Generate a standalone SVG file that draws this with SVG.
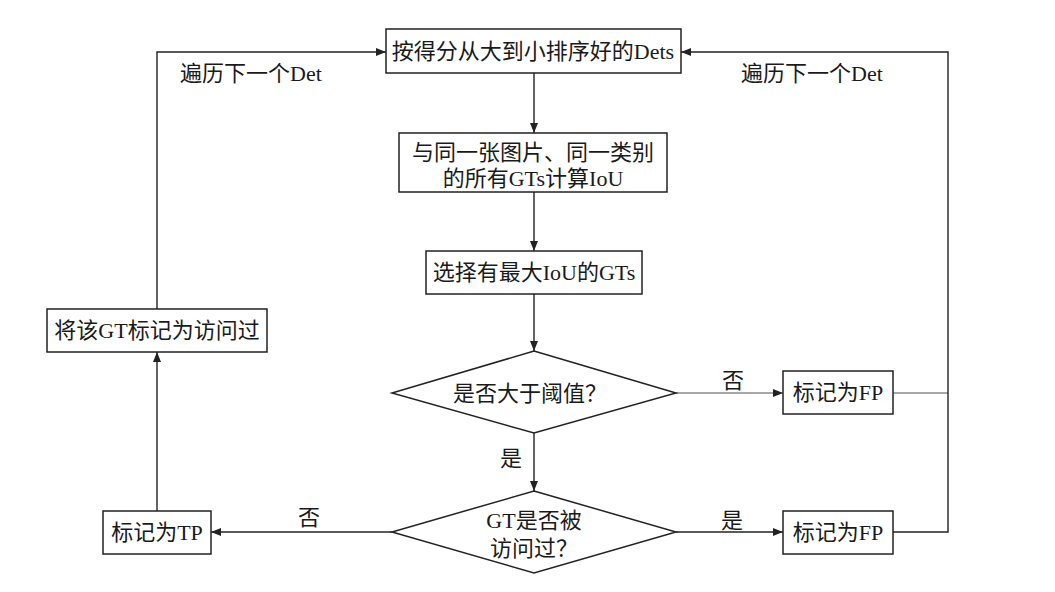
<svg xmlns="http://www.w3.org/2000/svg" width="1055" height="592" viewBox="0 0 1055 592">
<style>
.box{fill:#fff;stroke:#222;stroke-width:1.5}
.t{font-family:"Liberation Serif","Noto Sans CJK SC",serif;font-size:22px;fill:#1a1a1a;text-anchor:middle}
.c{fill:none;stroke:#222;stroke-width:1.4}
.g{fill:none;stroke:#8a8a8a;stroke-width:1.4}
</style>
<defs>
<marker id="ah" viewBox="0 0 10 8" refX="10" refY="4" markerWidth="10" markerHeight="8" markerUnits="userSpaceOnUse" orient="auto">
<path d="M0,0 L10,4 L0,8 Z" fill="#222"/>
</marker>
</defs>
<rect width="1055" height="592" fill="#fff"/>
<g id="connectors">
<path class="c" d="M534,73 V133" marker-end="url(#ah)"/>
<path class="c" d="M534,192 V251" marker-end="url(#ah)"/>
<path class="c" d="M534,294 V351" marker-end="url(#ah)"/>
<path class="c" d="M534,433 V491" marker-end="url(#ah)"/>
<path class="g" d="M676,393 H783" marker-end="url(#ah)"/>
<path class="g" d="M893,393 H948"/>
<path class="c" d="M893,532 H948 V52 H681" marker-end="url(#ah)"/>
<path class="c" d="M676,532 H783" marker-end="url(#ah)"/>
<path class="c" d="M392,532 H211" marker-end="url(#ah)"/>
<path class="c" d="M157,511 V352" marker-end="url(#ah)"/>
<path class="c" d="M157,309 V52 H386" marker-end="url(#ah)"/>
<text class="t" x="251" y="81">遍历下一个Det</text>
<text class="t" x="812" y="81">遍历下一个Det</text>
<text class="t" x="733" y="388">否</text>
<text class="t" x="511" y="466">是</text>
<text class="t" x="309" y="525">否</text>
<text class="t" x="732" y="528">是</text>
</g>
<g id="sorted-dets">
<rect class="box" x="386" y="29" width="295" height="44"/>
<text class="t" x="533" y="59">按得分从大到小排序好的Dets</text>
</g>
<g id="compute-iou">
<rect class="box" x="399" y="133" width="268" height="59"/>
<text class="t" x="533" y="160">与同一张图片、同一类别</text>
<text class="t" x="533" y="186">的所有GTs计算IoU</text>
</g>
<g id="select-max">
<rect class="box" x="426" y="251" width="216" height="43"/>
<text class="t" x="534" y="280">选择有最大IoU的GTs</text>
</g>
<g id="threshold">
<polygon class="box" points="534,351 676,393 534,433 392,393"/>
<text class="t" x="530" y="401">是否大于阈值？</text>
</g>
<g id="fp1">
<rect class="box" x="783" y="371" width="110" height="43"/>
<text class="t" x="838" y="400">标记为FP</text>
</g>
<g id="visited-check">
<polygon class="box" points="534,491 676,532 534,573 392,532"/>
<text class="t" x="534" y="528">GT是否被</text>
<text class="t" x="534" y="556">访问过？</text>
</g>
<g id="fp2">
<rect class="box" x="783" y="511" width="110" height="43"/>
<text class="t" x="838" y="540">标记为FP</text>
</g>
<g id="tp">
<rect class="box" x="103" y="511" width="108" height="43"/>
<text class="t" x="157" y="540">标记为TP</text>
</g>
<g id="mark-visited">
<rect class="box" x="47" y="309" width="220" height="43"/>
<text class="t" x="157" y="338">将该GT标记为访问过</text>
</g>
</svg>
